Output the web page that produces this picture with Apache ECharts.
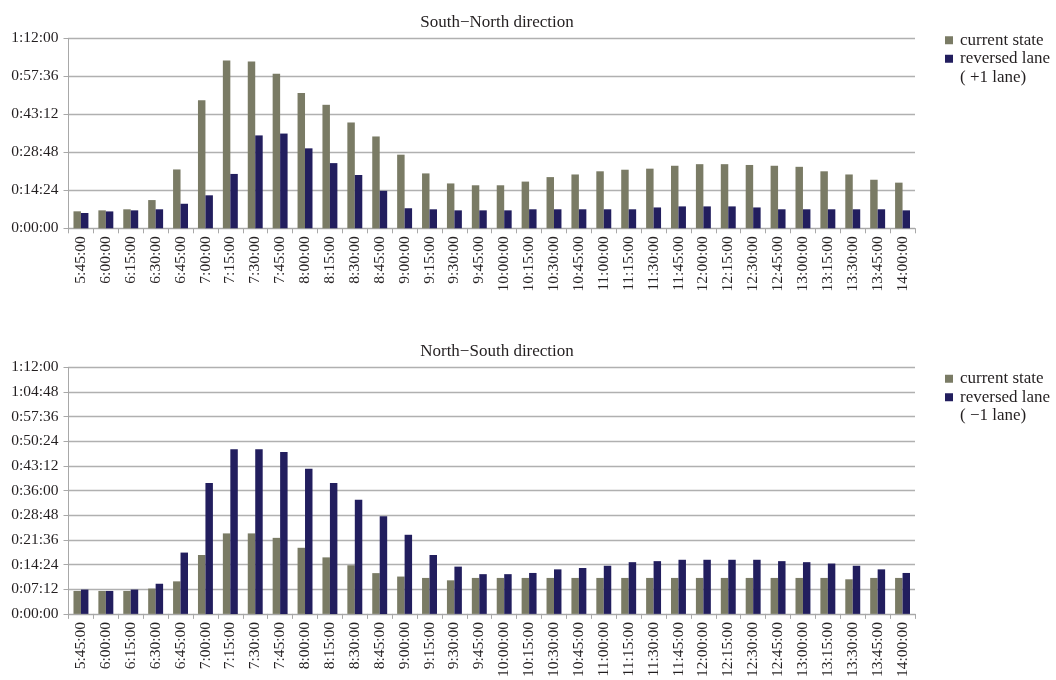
<!DOCTYPE html>
<html>
<head>
<meta charset="utf-8">
<script src="https://cdn.jsdelivr.net/npm/echarts@6/dist/echarts.min.js"></script>
<style>html,body{margin:0;padding:0;background:#fff;}#c{width:1056px;height:680px;}</style>
</head>
<body>
<div id="c"></div>
<script>
// Time-of-day categories
const categories = ['5:45:00','6:00:00','6:15:00','6:30:00','6:45:00','7:00:00','7:15:00','7:30:00','7:45:00','8:00:00','8:15:00','8:30:00','8:45:00','9:00:00','9:15:00','9:30:00','9:45:00','10:00:00','10:15:00','10:30:00','10:45:00','11:00:00','11:15:00','11:30:00','11:45:00','12:00:00','12:15:00','12:30:00','12:45:00','13:00:00','13:15:00','13:30:00','13:45:00','14:00:00'];

// Travel times in seconds
const snCurrent = [386,408,432,642,1338,2910,3816,3792,3516,3078,2808,2406,2088,1674,1248,1020,978,978,1062,1164,1224,1296,1332,1356,1422,1458,1458,1440,1422,1398,1296,1224,1104,1038];
const snReversed = [348,384,408,432,558,750,1236,2112,2154,1818,1482,1212,852,456,432,408,408,408,432,432,432,432,432,474,498,498,498,474,432,432,432,432,432,408];
const nsCurrent = [402,402,402,444,570,1032,1410,1410,1332,1158,990,852,714,654,630,588,630,630,630,630,630,630,630,630,630,630,630,630,630,630,630,606,630,630];
const nsReversed = [426,402,426,528,1074,2292,2886,2886,2838,2544,2292,1998,1710,1386,1032,828,696,696,717,780,804,843,906,924,948,948,948,948,924,906,882,843,780,717];

const titles = ['South\u2212North direction', 'North\u2212South direction'];
const nameCurrent = 'current state';
const nameRevSN = 'reversed lane\n( +1 lane)';
const nameRevNS = 'reversed lane\n( \u22121 lane)';
const yMax = 4320;
const yIntervals = [864, 432];

const FONT = "'Liberation Serif', 'DejaVu Serif', serif";
const TXT = '#231f20';
const GRAY = '#7a7b65';
const NAVY = '#221e5e';
const LINE = '#b0b0b0';

function fmt(v) {
  const h = Math.floor(v / 3600);
  const m = Math.floor((v % 3600) / 60);
  const s = Math.round(v % 60);
  return h + ':' + String(m).padStart(2, '0') + ':' + String(s).padStart(2, '0');
}

const grids = [
  {left: 68.5, right: 141, top: 38.3, height: 190},
  {left: 68.5, right: 141, top: 367.3, height: 252}
];

function xAx(i) {
  return {
    type: 'category', gridIndex: i, data: categories, boundaryGap: true,
    axisLine: {lineStyle: {color: '#a8a8a8', width: 1}},
    axisTick: {show: true, length: 5, interval: 0, lineStyle: {color: '#a8a8a8'}},
    axisLabel: {rotate: 90, interval: 0, margin: 8, fontFamily: FONT, fontSize: 15.5, color: TXT}
  };
}
function yAx(i) {
  return {
    type: 'value', gridIndex: i, min: 0, max: yMax, interval: yIntervals[i],
    axisLine: {show: true, lineStyle: {color: '#a8a8a8', width: 1}},
    axisTick: {show: true, length: 5, lineStyle: {color: '#a8a8a8'}},
    splitLine: {show: true, lineStyle: {color: LINE, width: 1.3}},
    axisLabel: {margin: 10, fontFamily: FONT, fontSize: 15.5, color: TXT, formatter: fmt}
  };
}
function legend(top, revName) {
  return {
    orient: 'vertical', left: 945, top: top, padding: 0, itemGap: -18.5,
    itemWidth: 12, itemHeight: 8, icon: 'path://M0,0H8V8H0Z', symbolKeepAspect: true,
    textStyle: {fontFamily: FONT, fontSize: 17, color: TXT, lineHeight: 18.5},
    formatter: function (name) {
      // put the icon beside the first line of a two-line label
      return name.indexOf('\n') >= 0 ? '\n' + name : name;
    },
    data: [{name: nameCurrent}, {name: revName}]
  };
}
function bar(name, data, color, i) {
  return {
    type: 'bar', name: name, data: data, xAxisIndex: i, yAxisIndex: i,
    barGap: '0%', barCategoryGap: '40%', itemStyle: {color: color},
    animation: false
  };
}

const chart = echarts.init(document.getElementById('c'), null, {renderer: 'canvas'});
chart.setOption({
  animation: false,
  backgroundColor: '#fff',
  title: [
    {text: titles[0], left: 492, top: 9, textAlign: 'center', textStyle: {fontFamily: FONT, fontSize: 17, fontWeight: 'normal', color: TXT}},
    {text: titles[1], left: 492, top: 338, textAlign: 'center', textStyle: {fontFamily: FONT, fontSize: 17, fontWeight: 'normal', color: TXT}}
  ],
  legend: [legend(31, nameRevSN), legend(369.5, nameRevNS)],
  grid: grids,
  xAxis: [xAx(0), xAx(1)],
  yAxis: [yAx(0), yAx(1)],
  series: [
    bar(nameCurrent, snCurrent, GRAY, 0),
    bar(nameRevSN, snReversed, NAVY, 0),
    bar(nameCurrent, nsCurrent, GRAY, 1),
    bar(nameRevNS, nsReversed, NAVY, 1)
  ]
});
</script>
</body>
</html>
